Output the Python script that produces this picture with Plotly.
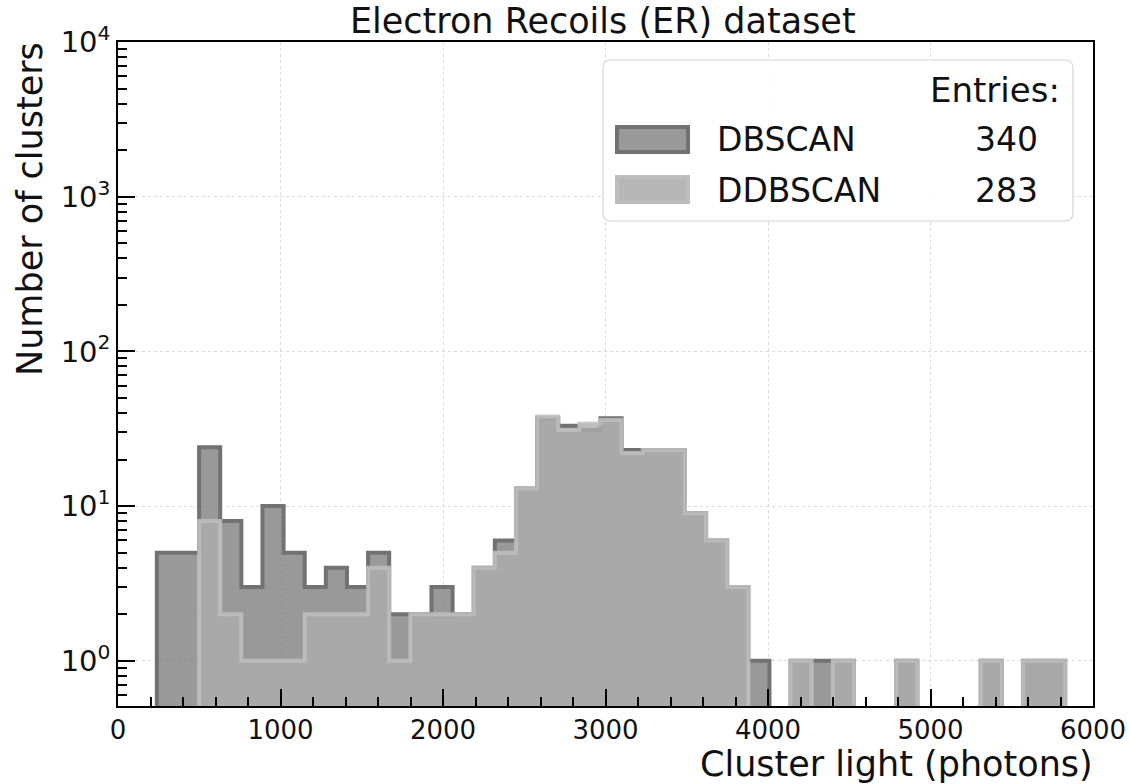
import plotly.graph_objects as go

# ---------------- data ----------------
bin_edges = [239, 369, 499, 629, 759, 889, 1019, 1149, 1279, 1409, 1539, 1669, 1799,
             1929, 2059, 2189, 2319, 2449, 2579, 2709, 2839, 2969, 3099, 3229, 3359,
             3489, 3619, 3749, 3879, 4009, 4139, 4269, 4399, 4529, 4659, 4789, 4919,
             5049, 5179, 5309, 5439, 5569, 5699, 5829]

dbscan_counts = [5, 5, 24, 8, 3, 10, 5, 3, 4, 3, 5, 2, 2, 3, 2, 4, 6, 13, 37, 33,
                 31, 37, 23, 23, 23, 9, 6, 3, 1, 0, 1, 1, 1, 0, 0, 1, 0, 0, 0, 1,
                 0, 1, 1]
ddbscan_counts = [0, 0, 8, 2, 1, 1, 1, 2, 2, 2, 4, 1, 2, 2, 2, 4, 5, 13, 38, 31,
                  34, 36, 22, 23, 23, 9, 6, 3, 0, 0, 1, 0, 1, 0, 0, 1, 0, 0, 0, 1,
                  0, 1, 1]

series_names = ["DBSCAN", "DDBSCAN"]
entries = [340, 283]

x_tick_vals = [0, 1000, 2000, 3000, 4000, 5000, 6000]
y_tick_vals = [1, 10, 100, 1000, 10000]
y_tick_text = ["10<sup>0</sup>", "10<sup>1</sup>", "10<sup>2</sup>", "10<sup>3</sup>", "10<sup>4</sup>"]

FONT = "DejaVu Sans"
FLOOR = 0.01  # drawn below visible range (log axis), like zero


def step_polygon(edges, counts, floor):
    xs = [edges[0]]
    ys = [floor]
    for i, c in enumerate(counts):
        v = c if c > 0 else floor
        xs += [edges[i], edges[i + 1]]
        ys += [v, v]
    xs.append(edges[-1])
    ys.append(floor)
    return xs, ys


fig = go.Figure()

xd, yd = step_polygon(bin_edges, dbscan_counts, FLOOR)
fig.add_trace(go.Scatter(
    x=xd, y=yd, mode="lines", fill="toself",
    fillcolor="rgba(128,128,128,0.8)",
    line=dict(color="#727272", width=4),
    name=series_names[0], showlegend=False, hoverinfo="skip"))

xs, ys = step_polygon(bin_edges, ddbscan_counts, FLOOR)
fig.add_trace(go.Scatter(
    x=xs, y=ys, mode="lines", fill="toself",
    fillcolor="rgba(172,172,172,0.82)",
    line=dict(color="rgba(190,190,190,0.88)", width=4),
    name=series_names[1], showlegend=False, hoverinfo="skip"))

# plot area in pixels
L, R, T, B = 118, 1093, 42, 706
W, H = R - L, B - T


def px(xp):
    return (xp - L) / W


def py(yp):
    return (B - yp) / H


shapes = []
annotations = []

# legend box (rounded)
bx0, bx1, by0, by1 = px(603), px(1073), py(221), py(60)
rx, ry = 8 / W, 8 / H
path = (f"M {bx0+rx},{by1} L {bx1-rx},{by1} Q {bx1},{by1} {bx1},{by1-ry} "
        f"L {bx1},{by0+ry} Q {bx1},{by0} {bx1-rx},{by0} "
        f"L {bx0+rx},{by0} Q {bx0},{by0} {bx0},{by0+ry} "
        f"L {bx0},{by1-ry} Q {bx0},{by1} {bx0+rx},{by1} Z")
shapes.append(dict(type="path", path=path, xref="paper", yref="paper",
                   fillcolor="rgba(255,255,255,0.9)", line=dict(color="#d4d4d4", width=1.2)))
# legend patches
shapes.append(dict(type="rect", xref="paper", yref="paper",
                   x0=px(617), x1=px(688), y0=py(152), y1=py(127),
                   fillcolor="#999999", line=dict(color="#727272", width=4)))
shapes.append(dict(type="rect", xref="paper", yref="paper",
                   x0=px(617), x1=px(688), y0=py(202), y1=py(177),
                   fillcolor="#b6b6b6", line=dict(color="#bdbdbd", width=4)))

leg_font = dict(family=FONT, size=33, color="#111111")
annotations.append(dict(text="Entries:", x=px(1062), y=py(90), xref="paper", yref="paper",
                        xanchor="right", yanchor="middle", showarrow=False,
                        font=dict(family=FONT, size=34, color="#111111")))
for name, n, yy in zip(series_names, entries, [140, 190]):
    annotations.append(dict(text=name, x=px(715), y=py(yy), xref="paper", yref="paper",
                            xanchor="left", yanchor="middle", showarrow=False, font=leg_font))
    annotations.append(dict(text=str(n), x=px(1006), y=py(yy), xref="paper", yref="paper",
                            xanchor="center", yanchor="middle", showarrow=False, font=leg_font))

# title and axis labels
annotations.append(dict(text="Electron Recoils (ER) dataset", x=px(603), y=py(21),
                        xref="paper", yref="paper", xanchor="center", yanchor="middle",
                        showarrow=False, font=dict(family=FONT, size=35, color="#111111")))
annotations.append(dict(text="Cluster light (photons)", x=px(1095), y=py(764),
                        xref="paper", yref="paper", xanchor="right", yanchor="middle",
                        showarrow=False, font=dict(family=FONT, size=35, color="#111111")))
annotations.append(dict(text="Number of clusters", x=px(30), y=py(40), textangle=-90,
                        xref="paper", yref="paper", xanchor="center", yanchor="top",
                        showarrow=False, font=dict(family=FONT, size=35, color="#111111")))

fig.update_layout(
    width=1130, height=784,
    margin=dict(l=L, r=1130 - R, t=T, b=784 - B, autoexpand=False),
    paper_bgcolor="white", plot_bgcolor="white",
    shapes=shapes, annotations=annotations,
    showlegend=False,
    font=dict(family=FONT, color="#111111"),
)

fig.update_xaxes(
    automargin=False,
    range=[0, 6000], tickvals=x_tick_vals, ticks="inside", ticklen=17, tickwidth=2,
    tickcolor="black", showline=True, linecolor="black", linewidth=1.5, mirror=True,
    showgrid=True, gridcolor="#dadada", griddash="dot", gridwidth=1, zeroline=False,
    tickfont=dict(family=FONT, size=26, color="#111111"),
    minor=dict(dtick=200, tick0=0, ticks="inside", ticklen=9, tickwidth=1.5,
               tickcolor="black", showgrid=False),
)
fig.update_yaxes(
    automargin=False,
    type="log", range=[-0.2924, 4], tickvals=y_tick_vals, ticktext=y_tick_text,
    ticks="inside", ticklen=17, tickwidth=2, tickcolor="black",
    showline=True, linecolor="black", linewidth=1.5, mirror=True,
    showgrid=True, gridcolor="#dadada", griddash="dot", gridwidth=1, zeroline=False,
    tickfont=dict(family=FONT, size=29, color="#111111"),
    minor=dict(dtick="D1", ticks="inside", ticklen=9, tickwidth=1.5,
               tickcolor="black", showgrid=False),
)

fig.write_html("out.html")
